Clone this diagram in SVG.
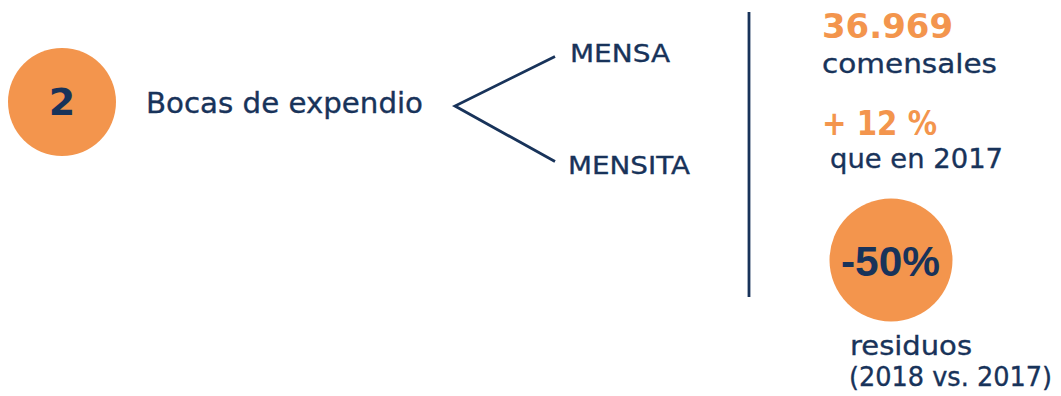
<svg xmlns="http://www.w3.org/2000/svg" width="1061" height="396" viewBox="0 0 1061 396">
<style>
.n{fill:#18335a;font-family:"DejaVu Sans","Liberation Sans",sans-serif;}
.m{stroke:#18335a;stroke-width:0.35;}
.o{fill:#f3954d;font-family:"DejaVu Sans","Liberation Sans",sans-serif;font-weight:bold;}
.b{font-weight:bold;}
.ln{stroke:#18335a;stroke-width:2.8;fill:none;}
.c{fill:#f3954d;}
</style>
<rect width="1061" height="396" fill="#ffffff"/>
<g id="badge-2">
<circle class="c" cx="62" cy="102" r="54"/>
<text class="n b" x="62" y="115" font-size="38" text-anchor="middle">2</text>
</g>
<g id="bocas">
<text class="n m" x="146" y="113" font-size="28" textLength="277" lengthAdjust="spacingAndGlyphs">Bocas de expendio</text>
</g>
<g id="mensa">
<text class="n m" x="570" y="62" font-size="25" textLength="100" lengthAdjust="spacingAndGlyphs">MENSA</text>
</g>
<g id="mensita">
<text class="n m" x="568" y="174" font-size="25" textLength="122" lengthAdjust="spacingAndGlyphs">MENSITA</text>
</g>
<g id="connectors">
<polyline class="ln" points="555,56.5 455,106 555,161.5"/>
<line class="ln" x1="749" y1="12" x2="749" y2="297"/>
</g>
<g id="stat-comensales">
<text class="o" x="822" y="38" font-size="34" textLength="131" lengthAdjust="spacingAndGlyphs">36.969</text>
<text class="n m" x="822" y="73" font-size="27" textLength="175" lengthAdjust="spacingAndGlyphs">comensales</text>
</g>
<g id="stat-crecimiento">
<text class="o" x="822" y="135" font-size="34" textLength="115" lengthAdjust="spacingAndGlyphs">+ 12 %</text>
<text class="n m" x="830" y="168" font-size="27" textLength="173" lengthAdjust="spacingAndGlyphs">que en 2017</text>
</g>
<g id="stat-residuos">
<circle class="c" cx="891" cy="260" r="61.5"/>
<text class="n" x="841" y="276" font-size="42" font-weight="bold" style="font-family:'Liberation Sans',sans-serif" textLength="99" lengthAdjust="spacingAndGlyphs">-50%</text>
<text class="n m" x="850" y="355" font-size="27" textLength="122" lengthAdjust="spacingAndGlyphs">residuos</text>
<text class="n m" x="849" y="386" font-size="26" textLength="203" lengthAdjust="spacingAndGlyphs">(2018 vs. 2017)</text>
</g>
</svg>
